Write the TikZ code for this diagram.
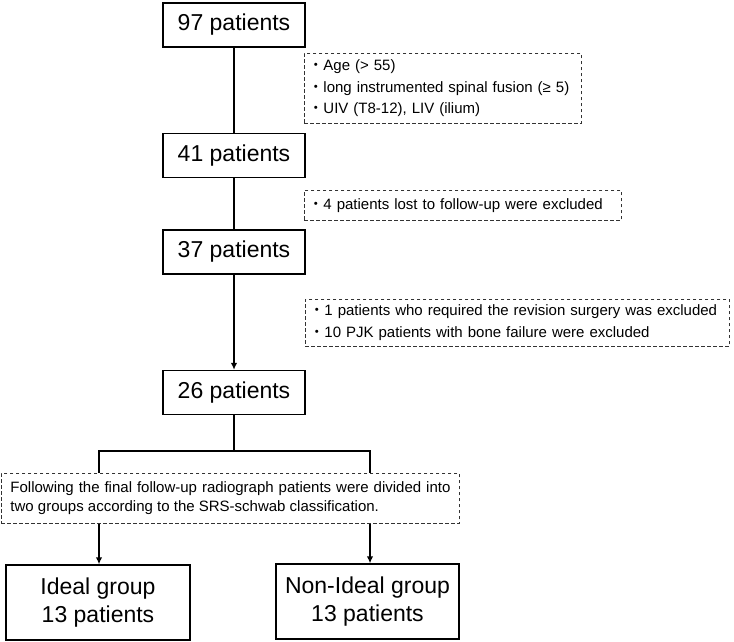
\documentclass[tikz,border=0pt]{standalone}
\usepackage{fontspec}
\setmainfont{Liberation Sans}
\newfontfamily\cjk{Noto Sans CJK JP}
\newcommand{\itemdot}{{\cjk ・}}
\usetikzlibrary{arrows.meta}

\tikzset{
  countbox/.style={draw, line width=1.3pt, minimum width=142, minimum height=44, inner sep=0pt, font=\fontsize{23}{27}\selectfont},
  groupbox/.style={draw, line width=1.3pt, minimum width=184, minimum height=75, inner sep=0pt, align=center, font=\fontsize{23}{28}\selectfont},
  notebox/.style={draw=black!80, dashed, dash pattern=on 3.5pt off 2.5pt, line width=0.9pt, anchor=north west, align=left, inner xsep=4pt, inner ysep=0pt},
  conn/.style={line width=2.8pt},
  arr/.style={line width=2.8pt, -{Latex[length=7pt,width=6.5pt]}}
}

\begin{document}
\begin{tikzpicture}[x=1pt,y=1pt,yscale=-1]
\useasboundingbox (0,0) rectangle (734,642);

%Shape: Rectangle
\node[countbox] (n97) at (234,25) {97 patients};
\node[countbox] (n41) at (234,155.5) {41 patients};
\node[countbox] (n37) at (234,252) {37 patients};
\node[countbox] (n26) at (234,392.5) {26 patients};

%Shape: Rectangle [dashed]
\node[notebox, minimum width=277, minimum height=70, text width=269, font=\fontsize{15}{21.5}\selectfont] (crit) at (304,53)
  {\itemdot Age (> 55)\\ \itemdot long instrumented spinal fusion (≥ 5)\\ \itemdot UIV (T8-12), LIV (ilium)};
\node[notebox, minimum width=317, minimum height=30, text width=309, font=\fontsize{15}{19}\selectfont] (lost) at (304,190)
  {\itemdot 4 patients lost to follow-up were excluded};
\node[notebox, minimum width=424, minimum height=47, text width=416, font=\fontsize{15}{22}\selectfont] (excl) at (305,299)
  {\itemdot 1 patients who required the revision surgery was excluded\\ \itemdot 10 PJK patients with bone failure were excluded};
\node[notebox, minimum width=458, minimum height=50, text width=440, inner xsep=9pt, align=justify, font=\fontsize{15}{19}\selectfont] (divnote) at (1,473)
  {Following the final follow-up radiograph patients were divided into two groups according to the SRS-schwab classification.};

%Shape: Rectangle
\node[groupbox] (grpA) at (98,602.5) {Ideal group\\13 patients};
\node[groupbox, minimum width=183] (grpB) at (367.5,601.5) {Non-Ideal group\\13 patients};

%Straight Lines
\coordinate (split) at (234,451);
\coordinate (dropA) at (99,451);
\coordinate (dropB) at (370,451);
\draw[conn] (n97) -- (n41);
\draw[conn] (n41) -- (n37);
\draw[arr] (n37) -- (n26);
\draw[conn] (n26) -- (split);
\draw[conn, line cap=rect] (dropA) -- (dropB);
\draw[conn] (dropA) -- (dropA |- divnote.north);
\draw[conn] (dropB) -- (dropB |- divnote.north);
\draw[arr] (dropA |- divnote.south) -- (dropA |- grpA.north);
\draw[arr] (dropB |- divnote.south) -- (dropB |- grpB.north);

\end{tikzpicture}
\end{document}
